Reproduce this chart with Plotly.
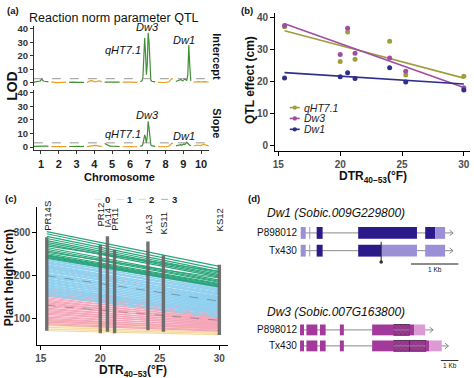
import numpy as np
import plotly.graph_objects as go

W, H = 474, 378
FONT = "Liberation Sans, Arial, sans-serif"

# ---------------- (a) LOD profiles (intercept / slope) ----------------
CHROMOSOMES = [1, 2, 3, 4, 5, 6, 7, 8, 9, 10]
INT_LOD_CHR1 = [0.6, 0.8, 1.0, 1.2, 1.1, 1.4, 3.0, 1.6, 1.2, 1.0, 0.9, 0.8]
INT_LOD_CHR2 = [0.8, 0.5, 0.3, 0.2, 0.2, 0.3, 0.3, 0.2, 0.4, 0.6]
INT_LOD_CHR3 = [0.4, 0.6, 0.5, 0.5, 0.4, 0.5, 0.6, 0.5, 0.4, 0.3]
INT_LOD_CHR4 = [0.3, 1.0, 1.5, 1.6, 1.2, 0.8, 1.0, 1.5, 1.3, 0.6]
INT_LOD_CHR5 = [0.5, 0.6, 0.8, 0.7, 0.6, 0.5, 0.4, 0.4, 0.5, 0.6]
INT_LOD_CHR6 = [0.5, 0.4, 0.3, 0.4, 0.5, 0.6, 0.5, 0.4, 0.3, 0.4]
INT_LOD_CHR7 = [0.8, 1.0, 1.5, 4.0, 20.0, 33.0, 22.0, 6.0, 14.0, 37.0, 30.0, 8.0, 2.0, 1.2, 1.0, 0.8, 0.9, 0.7]
INT_LOD_CHR8 = [0.4, 0.3, 0.3, 0.2, 0.3, 0.3, 0.4, 0.5, 0.8, 2.0, 3.2, 3.0]
INT_LOD_CHR9 = [1.0, 1.3, 1.6, 1.4, 2.0, 2.6, 1.8, 1.5, 2.2, 2.8, 2.2, 2.0, 6.0, 28.0, 12.0, 1.5]
INT_LOD_CHR10 = [0.6, 0.8, 1.0, 0.9, 0.7, 0.8, 1.1, 0.9, 0.7, 0.6]

SLP_LOD_CHR1 = [0.5, 0.6, 0.7, 0.8, 0.9, 1.0, 0.8, 0.7, 0.6, 0.5]
SLP_LOD_CHR2 = [0.3, 0.3, 0.2, 0.2, 0.3, 0.2, 0.2, 0.3, 0.3, 0.3]
SLP_LOD_CHR3 = [0.4, 0.5, 0.5, 0.4, 0.5, 0.6, 0.5, 0.4, 0.4, 0.5]
SLP_LOD_CHR4 = [0.3, 0.5, 0.8, 1.2, 1.5, 1.2, 1.0, 0.8, 0.5, 0.3]
SLP_LOD_CHR5 = [2.6, 1.8, 1.0, 0.7, 0.6, 0.5, 0.5, 0.4, 0.5, 0.4]
SLP_LOD_CHR6 = [0.2, 0.3, 0.3, 0.2, 0.2, 0.3, 0.3, 0.2, 0.2, 0.3]
SLP_LOD_CHR7 = [0.5, 0.8, 1.0, 2.0, 7.0, 9.0, 7.0, 3.0, 8.0, 19.0, 14.0, 4.0, 1.5, 1.0, 0.8, 0.6, 0.7, 0.5]
SLP_LOD_CHR8 = [0.3, 0.2, 0.2, 0.3, 0.3, 0.2, 0.3, 0.4, 0.6, 1.5, 2.8, 2.5]
SLP_LOD_CHR9 = [0.8, 1.0, 1.2, 1.0, 1.5, 1.8, 1.3, 1.6, 2.2, 1.8, 2.5, 3.6, 2.8, 1.5, 1.2, 0.9]
SLP_LOD_CHR10 = [0.8, 1.2, 1.5, 1.3, 1.0, 1.4, 2.0, 1.6, 1.2, 0.9]

INT_LOD = [INT_LOD_CHR1, INT_LOD_CHR2, INT_LOD_CHR3, INT_LOD_CHR4, INT_LOD_CHR5,
           INT_LOD_CHR6, INT_LOD_CHR7, INT_LOD_CHR8, INT_LOD_CHR9, INT_LOD_CHR10]
SLP_LOD = [SLP_LOD_CHR1, SLP_LOD_CHR2, SLP_LOD_CHR3, SLP_LOD_CHR4, SLP_LOD_CHR5,
           SLP_LOD_CHR6, SLP_LOD_CHR7, SLP_LOD_CHR8, SLP_LOD_CHR9, SLP_LOD_CHR10]
LOD_THRESHOLD = 3.1
LOD_TICKS = [0, 10, 20, 30, 40]

# ---------------- (b) QTL effects vs DTR ----------------
DTR_ENV = [15.5, 20.0, 20.6, 21.2, 24.0, 25.3, 30.0]
QHT71_EFFECT = [37.2, 26.3, 35.5, 27.0, 32.6, 22.0, 21.6]
DW3_EFFECT = [37.6, 28.5, 36.7, 28.9, 27.4, 23.2, 18.0]
DW1_EFFECT = [21.1, 21.5, 22.7, 20.9, 24.3, 19.8, 17.3]
QTL_NAMES = ["qHT7.1", "Dw3", "Dw1"]

# ---------------- (c) reaction norms ----------------
ENV_NAMES = ["PR14S", "PR12", "IA14", "PR11", "IA13", "KS11", "KS12"]
ENV_MIN_HEIGHT = [72, 66, 70, 66, 73, 70, 62]
ENV_MAX_HEIGHT = [290, 272, 292, 261, 280, 248, 226]
GROUP_LABELS = ["0", "1", "2", "3"]
G0_START = [96, 92, 88, 84, 80, 76, 72]
G0_END = [80, 77, 74, 72, 69, 66, 63]
G1_START = [172, 168, 165, 162, 158, 155, 152, 149, 146, 143, 140, 137, 134, 131, 128,
            125, 122, 119, 116, 113, 110, 107, 104, 101, 98, 95, 92, 89, 86, 220]
G1_END = [118, 114, 116, 110, 112, 106, 108, 103, 105, 100, 102, 97, 99, 94, 96,
          91, 93, 88, 90, 85, 87, 82, 84, 79, 81, 76, 78, 73, 71, 150]
G2_START = [246, 243, 240, 238, 236, 233, 231, 229, 226, 224, 222, 220, 218, 215, 213,
            211, 209, 206, 204, 202, 200, 198, 196, 193, 191, 189, 186, 184, 182, 179,
            177, 175, 172, 170, 167, 165, 162, 160, 157, 154]
G2_END = [176, 172, 174, 168, 170, 165, 162, 166, 158, 160, 155, 157, 150, 152, 148,
          145, 147, 142, 144, 139, 141, 136, 138, 133, 135, 130, 132, 127, 129, 124,
          126, 121, 123, 118, 120, 115, 112, 116, 108, 104]
G3_START = [303, 298, 292, 287, 282, 278, 274, 270, 266, 262, 258, 255, 252, 249, 247,
            245, 243, 241]
G3_END = [222, 215, 210, 206, 203, 200, 197, 210, 190, 187, 185, 195, 182, 180, 178,
          176, 175, 174]

# ---------------- (d) gene models (kb from gene start) ----------------
DW1_P898012_EXONS = [(0.0, 0.105, "utr"), (0.18, 0.20, "utr"), (0.336, 0.462, "cds"),
                     (1.212, 2.452, "cds"), (2.626, 2.836, "cds"), (2.836, 3.046, "utr")]
DW1_TX430_EXONS = [(0.0, 0.105, "utr"), (0.18, 0.20, "utr"), (0.336, 0.462, "cds"),
                   (1.212, 1.697, "cds"), (1.697, 2.452, "utr"), (2.626, 3.046, "utr")]
DW1_ARROW_END = [3.214, 3.214]
DW1_SNP_KB = 1.697
DW3_P898012_EXONS = [(0.0, 0.227, "cds"), (0.364, 0.989, "cds"), (1.136, 1.46, "cds"),
                     (2.273, 2.5, "cds"), (4.114, 5.341, "cds"), (5.341, 6.25, "hatch"),
                     (6.25, 6.517, "cds"), (6.517, 7.142, "utr")]
DW3_TX430_EXONS = [(0.0, 0.227, "cds"), (0.364, 0.989, "cds"), (1.136, 1.46, "cds"),
                   (2.273, 2.5, "cds"), (4.114, 5.341, "cds"), (5.341, 6.25, "hatch"),
                   (6.25, 7.193, "hatch"), (7.193, 7.381, "cds"), (7.381, 8.085, "utr")]
DW3_ARROW_END = [7.597, 8.466]
LINES = ["P898012", "Tx430"]

# ---------------- styles ----------------
CHR_COLORS = ["#3f8f35", "#e6a024"]
QTL_COLORS = ["#a09e3c", "#a24ca6", "#2e2e8c"]
GROUP_COLORS = ["#f6d89b", "#f5a5b8", "#8fd0ef", "#2ba67b"]
DW1_COLORS = {"cds": "#2b1a8a", "utr": "#9b8fd8"}
DW3_COLORS = {"cds": "#a3399a", "utr": "#dc9ad4", "hatch": "#a3399a"}


def dx(a, b):
    return [a / W, b / W]


def dy(top, bottom):
    return [1 - bottom / H, 1 - top / H]


fig = go.Figure()

# ---- (a)
for i, c in enumerate(CHROMOSOMES):
    col = CHR_COLORS[i % 2]
    for vals, xa, ya in ((INT_LOD[i], "x", "y"), (SLP_LOD[i], "x2", "y2")):
        xs = np.linspace(c - 0.42, c + 0.42, len(vals))
        fig.add_trace(go.Scatter(x=xs, y=vals, mode="lines", xaxis=xa, yaxis=ya,
                                 line=dict(color=col, width=1.2), hoverinfo="skip"))

# ---- (b)
series_b = [QHT71_EFFECT, DW3_EFFECT, DW1_EFFECT]
xfit = np.array([min(DTR_ENV), max(DTR_ENV)])
for vals, col in zip(series_b, QTL_COLORS):
    k, b0 = np.polyfit(DTR_ENV, vals, 1)
    fig.add_trace(go.Scatter(x=xfit, y=k * xfit + b0, mode="lines", xaxis="x3", yaxis="y3",
                             line=dict(color=col, width=1.6), hoverinfo="skip"))
for vals, col in zip(series_b, QTL_COLORS):
    fig.add_trace(go.Scatter(x=DTR_ENV, y=vals, mode="markers", xaxis="x3", yaxis="y3",
                             marker=dict(color=col, size=5), hoverinfo="skip"))

# ---- (c)
groups = [(G0_START, G0_END), (G1_START, G1_END), (G2_START, G2_END), (G3_START, G3_END)]
x0c, x1c = min(DTR_ENV), max(DTR_ENV)
for (st, en), col in zip(groups, GROUP_COLORS):
    xs, ys = [], []
    for s, e in zip(st, en):
        xs += [x0c, x1c, None]
        ys += [s, e, None]
    fig.add_trace(go.Scatter(x=xs, y=ys, mode="lines", xaxis="x4", yaxis="y4",
                             line=dict(color=col, width=1.2), hoverinfo="skip"))
for (st, en) in groups[1:3]:
    fig.add_trace(go.Scatter(x=[x0c, x1c], y=[np.mean(st), np.mean(en)], mode="lines",
                             xaxis="x4", yaxis="y4",
                             line=dict(color="rgba(70,80,90,0.55)", width=0.8, dash="dash"),
                             hoverinfo="skip"))
xs, ys = [], []
for d, lo, hi in zip(DTR_ENV, ENV_MIN_HEIGHT, ENV_MAX_HEIGHT):
    xs += [d, d, None]
    ys += [lo, hi, None]
fig.add_trace(go.Scatter(x=xs, y=ys, mode="lines", xaxis="x4", yaxis="y4",
                         line=dict(color="rgba(100,100,100,0.9)", width=3.4), hoverinfo="skip"))

# ---- (d) gene models on a pixel overlay axis
shapes = []
annotations = []


def draw_gene(x0, scale, rows, arrow_ends, colors, h):
    for (exons, yc), aend in zip(rows, arrow_ends):
        shapes.append(dict(type="line", xref="x5", yref="y5", x0=x0, x1=x0 + aend * scale,
                           y0=yc, y1=yc, line=dict(color="#8a8a8a", width=1)))
        ax = x0 + aend * scale
        shapes.append(dict(type="path", xref="x5", yref="y5",
                           path=f"M {ax-3.5},{yc-2.8} L {ax},{yc} L {ax-3.5},{yc+2.8}",
                           line=dict(color="#8a8a8a", width=1)))
        for s, e, kind in exons:
            if kind == "hatch":
                fig.add_trace(go.Bar(x=[(e - s) * scale], base=[x0 + s * scale], y=[yc],
                                     width=h, orientation="h", xaxis="x5", yaxis="y5",
                                     marker=dict(color=colors["hatch"],
                                                 line=dict(color="#3d1f3d", width=0.8),
                                                 pattern=dict(shape="x", fgcolor="#3d1f3d",
                                                              size=3, solidity=0.3,
                                                              fillmode="overlay")),
                                     hoverinfo="skip"))
            else:
                shapes.append(dict(type="rect", xref="x5", yref="y5",
                                   x0=x0 + s * scale, x1=x0 + e * scale,
                                   y0=yc - h / 2, y1=yc + h / 2,
                                   fillcolor=colors[kind], line=dict(width=0)))


draw_gene(300.0, 47.6, [(DW1_P898012_EXONS, 233), (DW1_TX430_EXONS, 251)],
          DW1_ARROW_END, DW1_COLORS, 12)
draw_gene(299.3, 17.6, [(DW3_P898012_EXONS, 331.3), (DW3_TX430_EXONS, 347.5)],
          DW3_ARROW_END, DW3_COLORS, 11)
snp_x = 300.0 + DW1_SNP_KB * 47.6
shapes.append(dict(type="line", xref="x5", yref="y5", x0=snp_x, x1=snp_x, y0=242, y1=262.5,
                   line=dict(color="#222", width=1)))
shapes.append(dict(type="circle", xref="x5", yref="y5", x0=snp_x - 1.8, x1=snp_x + 1.8,
                   y0=260.7, y1=264.3, fillcolor="#333", line=dict(width=0)))
# scale bars
shapes.append(dict(type="line", xref="x5", yref="y5", x0=410.7, x1=410.7 + 47.6, y0=264.5,
                   y1=264.5, line=dict(color="#666", width=1.3)))
shapes.append(dict(type="line", xref="x5", yref="y5", x0=440.7, x1=440.7 + 17.6, y0=362.3,
                   y1=362.3, line=dict(color="#333", width=1)))

# threshold lines (a)
for ya in ("y", "y2"):
    shapes.append(dict(type="line", xref="x domain" if ya == "y" else "x2 domain", yref=ya,
                       x0=0, x1=1, y0=LOD_THRESHOLD, y1=LOD_THRESHOLD,
                       line=dict(color="#8c8c8c", width=0.9, dash="dash")))

# legend (b)
for i, (name, col) in enumerate(zip(QTL_NAMES, QTL_COLORS)):
    yy = 106 + i * 11
    shapes.append(dict(type="line", xref="x5", yref="y5", x0=289, x1=299, y0=yy, y1=yy,
                       line=dict(color=col, width=1.6)))
    shapes.append(dict(type="circle", xref="x5", yref="y5", x0=291.8, x1=296.2,
                       y0=yy - 2.2, y1=yy + 2.2, fillcolor=col, line=dict(width=0)))
    annotations.append(dict(x=301, y=yy, text=f"<i>{name}</i>", xanchor="left",
                            font=dict(size=10.5, color="#222")))

# legend (c)
for i, (lab, col) in enumerate(zip(GROUP_LABELS, GROUP_COLORS)):
    lx = 106 + i * 22.3
    shapes.append(dict(type="line", xref="x5", yref="y5", x0=lx - 13, x1=lx - 6, y0=199, y1=199,
                       line=dict(color=col, width=1), opacity=0.6))
    annotations.append(dict(x=lx, y=199, text=f"<b>{lab}</b>", font=dict(size=9.5, color="#222")))


def T(x, y, text, size, angle=0, xanchor="center", color="#111", yanchor="middle"):
    annotations.append(dict(x=x, y=y, text=text, textangle=angle, xanchor=xanchor,
                            yanchor=yanchor, font=dict(size=size, color=color)))


T(3, 8, "<b>(a)</b>", 9.5, xanchor="left")
T(112.5, 15, "Reaction norm parameter QTL", 12.5)
T(10, 84, "<b>LOD</b>", 14, angle=-90)
T(216, 54, "<b>Intercept</b>", 11, angle=90)
T(216, 122, "<b>Slope</b>", 11, angle=90)
T(118, 176, "<b>Chromosome</b>", 11)
T(142, 48, "<i>qHT7.1</i>", 11, xanchor="right")
T(146, 24, "<i>Dw3</i>", 11)
T(183, 37, "<i>Dw1</i>", 11)
T(146, 113, "<i>Dw3</i>", 11)
T(142, 133, "<i>qHT7.1</i>", 11, xanchor="right")
T(183, 135, "<i>Dw1</i>", 11)

T(238, 8, "<b>(b)</b>", 9.5, xanchor="left")
T(249, 78, "<b>QTL effect (cm)</b>", 12, angle=-90)
T(373, 176.5, "<b>DTR<sub>40–53</sub>(°F)</b>", 12)

T(1, 198, "<b>(c)</b>", 9.5, xanchor="left")
T(7, 278, "<b>Plant height (cm)</b>", 12, angle=-90)
T(132, 373, "<b>DTR<sub>40–53</sub>(°F)</b>", 12)

T(245, 198, "<b>(d)</b>", 9.5, xanchor="left")
T(264, 213, "<i>Dw1 (Sobic.009G229800)</i>", 12, xanchor="left")
T(264, 313.5, "<i>Dw3 (Sobic.007G163800)</i>", 12, xanchor="left")
for yy, lab in zip([233, 251, 331.3, 347.5], LINES * 2):
    T(298, yy, lab, 10, xanchor="right")
T(434.5, 270.5, "1 Kb", 6.5)
T(449.5, 367.5, "1 Kb", 6.5)

for a in annotations:
    a.setdefault("xref", "x5")
    a.setdefault("yref", "y5")
    a.setdefault("yanchor", "middle")
    a["showarrow"] = False
    a["font"]["family"] = FONT

# environment labels (c)
ENV_LABEL_Y = [216, 214, 217, 219, 224, 223, 220]
for d, name, yy in zip(DTR_ENV, ENV_NAMES, ENV_LABEL_Y):
    annotations.append(dict(x=d, y=yy, xref="x4", yref="y5", text=name, textangle=-90,
                            showarrow=False, xanchor="center", yanchor="middle",
                            font=dict(size=9.5, color="#222", family=FONT)))

ax_a = dict(showgrid=False, zeroline=False, showline=True, linecolor="#333", linewidth=1,
            ticks="outside", ticklen=3, tickcolor="#333",
            tickfont=dict(size=9.5, color="#333", family=FONT, weight="bold"))
ax_bc = dict(showgrid=False, zeroline=False, showline=True, linecolor="black", linewidth=1,
             ticks="outside", ticklen=3.5, tickcolor="black",
             tickfont=dict(size=10, color="#4d4d4d", family=FONT, weight="bold"))

fig.update_layout(
    width=W, height=H, margin=dict(l=0, r=0, t=0, b=0),
    paper_bgcolor="white", plot_bgcolor="rgba(0,0,0,0)",
    showlegend=False, barmode="overlay", hovermode=False,
    font=dict(family=FONT),
    xaxis=dict(domain=dx(32, 208), range=[0.6, 10.45], anchor="y", showgrid=False,
               zeroline=False, showline=False, showticklabels=False, ticks=""),
    yaxis=dict(ax_a, domain=dy(23.25, 84.4), range=[-2.5, 42], anchor="x", tickvals=LOD_TICKS),
    xaxis2=dict(ax_a, domain=dx(32, 208), range=[0.6, 10.45], anchor="y2",
                tickvals=CHROMOSOMES, tickfont=dict(size=11, color="#222", family=FONT, weight="bold")),
    yaxis2=dict(ax_a, domain=dy(88.25, 149.4), range=[-2.5, 42], anchor="x2", tickvals=LOD_TICKS),
    xaxis3=dict(ax_bc, domain=dx(273.7, 470), range=[14.69, 30.5], anchor="y3",
                tickvals=[15, 20, 25, 30]),
    yaxis3=dict(ax_bc, domain=dy(10, 150), range=[-1.86, 41.55], anchor="x3",
                tickvals=[0, 10, 20, 30, 40]),
    xaxis4=dict(ax_bc, domain=dx(35, 227), range=[14.67, 30.73], anchor="y4",
                tickvals=[15, 20, 25, 30]),
    yaxis4=dict(ax_bc, domain=dy(207, 347), range=[37.9, 359.8], anchor="x4",
                tickvals=[100, 200, 300]),
    xaxis5=dict(domain=[0, 1], range=[0, W], anchor="y5", visible=False, fixedrange=True),
    yaxis5=dict(domain=[0, 1], range=[H, 0], anchor="x5", visible=False, fixedrange=True),
    shapes=shapes, annotations=annotations,
)

fig.write_html("out.html", config={"displayModeBar": False, "staticPlot": True},
               post_script="document.body.style.margin='0';document.body.style.overflow='hidden';")
